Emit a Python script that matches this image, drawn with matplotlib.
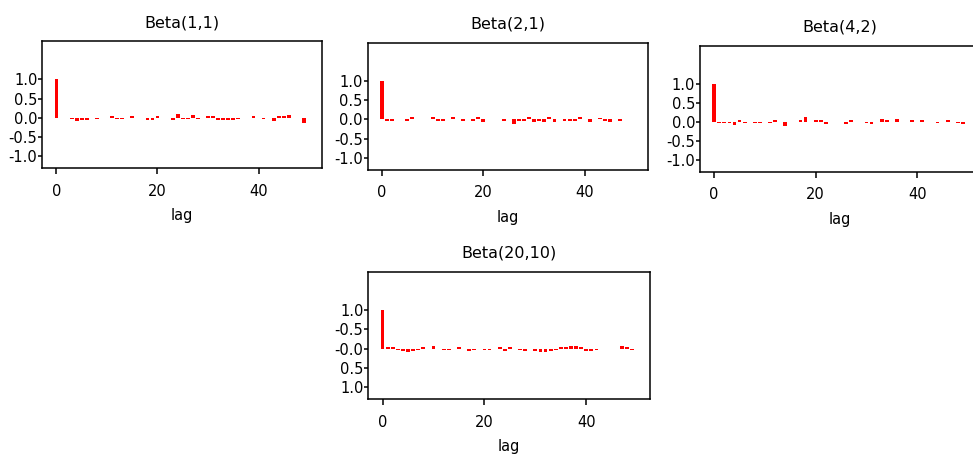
import matplotlib
matplotlib.use("Agg")
import matplotlib.pyplot as plt
import numpy as np

# autocorrelation estimates, lags 0..49
lags = np.arange(50)

acf_b11 = [1.0, 0.0, 0.0, -0.04, -0.08, -0.05, -0.05, 0.0, -0.04, 0.0,
           0.0, 0.05, -0.04, -0.04, 0.0, 0.04, 0.0, 0.0, -0.06, -0.07,
           0.04, 0.0, 0.0, -0.06, 0.1, -0.04, -0.04, 0.07, -0.04, 0.0,
           0.04, 0.04, -0.05, -0.06, -0.05, -0.05, -0.04, 0.0, 0.0, 0.04,
           0.0, -0.04, 0.0, -0.09, 0.05, 0.04, 0.07, 0.0, 0.0, -0.15]

acf_b21 = [1.0, -0.04, -0.04, 0.0, 0.0, -0.04, 0.05, 0.0, 0.0, 0.0,
           0.05, -0.04, -0.04, 0.0, 0.05, 0.0, -0.04, 0.0, -0.04, 0.05,
           -0.07, 0.0, 0.0, 0.0, -0.04, 0.0, -0.11, -0.05, -0.04, 0.07,
           -0.07, -0.05, -0.06, 0.05, -0.07, 0.0, -0.04, -0.04, -0.04, 0.07,
           0.0, -0.08, 0.0, 0.04, -0.05, -0.07, 0.0, -0.04, 0.0, 0.0]

acf_b42 = [1.0, -0.04, -0.04, -0.04, -0.08, 0.05, -0.04, 0.0, -0.04, -0.04,
           0.0, -0.04, 0.05, 0.0, -0.11, 0.0, 0.0, 0.04, 0.11, 0.0,
           0.04, 0.04, -0.07, 0.0, 0.0, 0.0, -0.07, 0.05, 0.0, 0.0,
           -0.04, -0.07, 0.0, 0.08, 0.05, 0.0, 0.08, 0.0, 0.0, 0.04,
           0.0, 0.04, 0.0, 0.0, -0.04, 0.0, 0.04, 0.0, -0.04, -0.07]

acf_b2010 = [1.0, 0.04, 0.04, -0.04, -0.07, -0.08, -0.05, -0.04, 0.04, 0.0,
             0.07, 0.0, -0.04, -0.04, 0.0, 0.04, 0.0, -0.05, -0.04, 0.0,
             -0.04, -0.04, 0.0, 0.04, -0.07, 0.04, 0.0, -0.04, -0.05, 0.0,
             -0.06, -0.08, -0.08, -0.05, -0.04, 0.04, 0.05, 0.07, 0.07, 0.05,
             -0.05, -0.05, -0.04, 0.0, 0.0, 0.0, 0.0, 0.06, 0.04, -0.04]

titles = ["Beta(1,1)", "Beta(2,1)", "Beta(4,2)", "Beta(20,10)"]
series = [acf_b11, acf_b21, acf_b42, acf_b2010]
yticks = [-1.0, -0.5, 0.0, 0.5, 1.0]
ylabels_std = ["-1.0", "-0.5", "0.0", "0.5", "1.0"]
ylabels_last = ["1.0", "0.5", "-0.0", "-0.5", "1.0"]   # as printed on the last panel

plt.rcParams['font.family'] = ['DejaVu Sans']

fig = plt.figure(figsize=(9.73, 4.55), dpi=100)

# axes boxes in figure fractions [left, bottom, width, height]
boxes = [[0.0435, 0.630, 0.2871, 0.2798],
         [0.3779, 0.6264, 0.2884, 0.2798],
         [0.7194, 0.6226, 0.2884, 0.2770],
         [0.3785, 0.1224, 0.2895, 0.2804]]

for i, (box, title, vals) in enumerate(zip(boxes, titles, series)):
    ax = fig.add_axes(box)
    ax.bar(lags, vals, width=0.75, color='red', linewidth=0)
    ax.set_xlim(-2.8, 52.5)
    ax.set_ylim(-1.32, 2.0)
    ax.set_xticks([0, 20, 40])
    ax.set_yticks(yticks)
    ax.set_yticklabels(ylabels_last if i == 3 else ylabels_std)
    ax.set_title(title, fontsize=11.5, pad=10)
    ax.set_xlabel('lag', fontsize=10.5, labelpad=7)
    for s in ax.spines.values():
        s.set_linewidth(1.1)
    ax.tick_params(axis='x', length=4, width=1.1, pad=7, labelsize=10.5)
    ax.tick_params(axis='y', length=3, width=1.1, pad=0.5, labelsize=10.5)

fig.savefig('out.png', dpi=100)
